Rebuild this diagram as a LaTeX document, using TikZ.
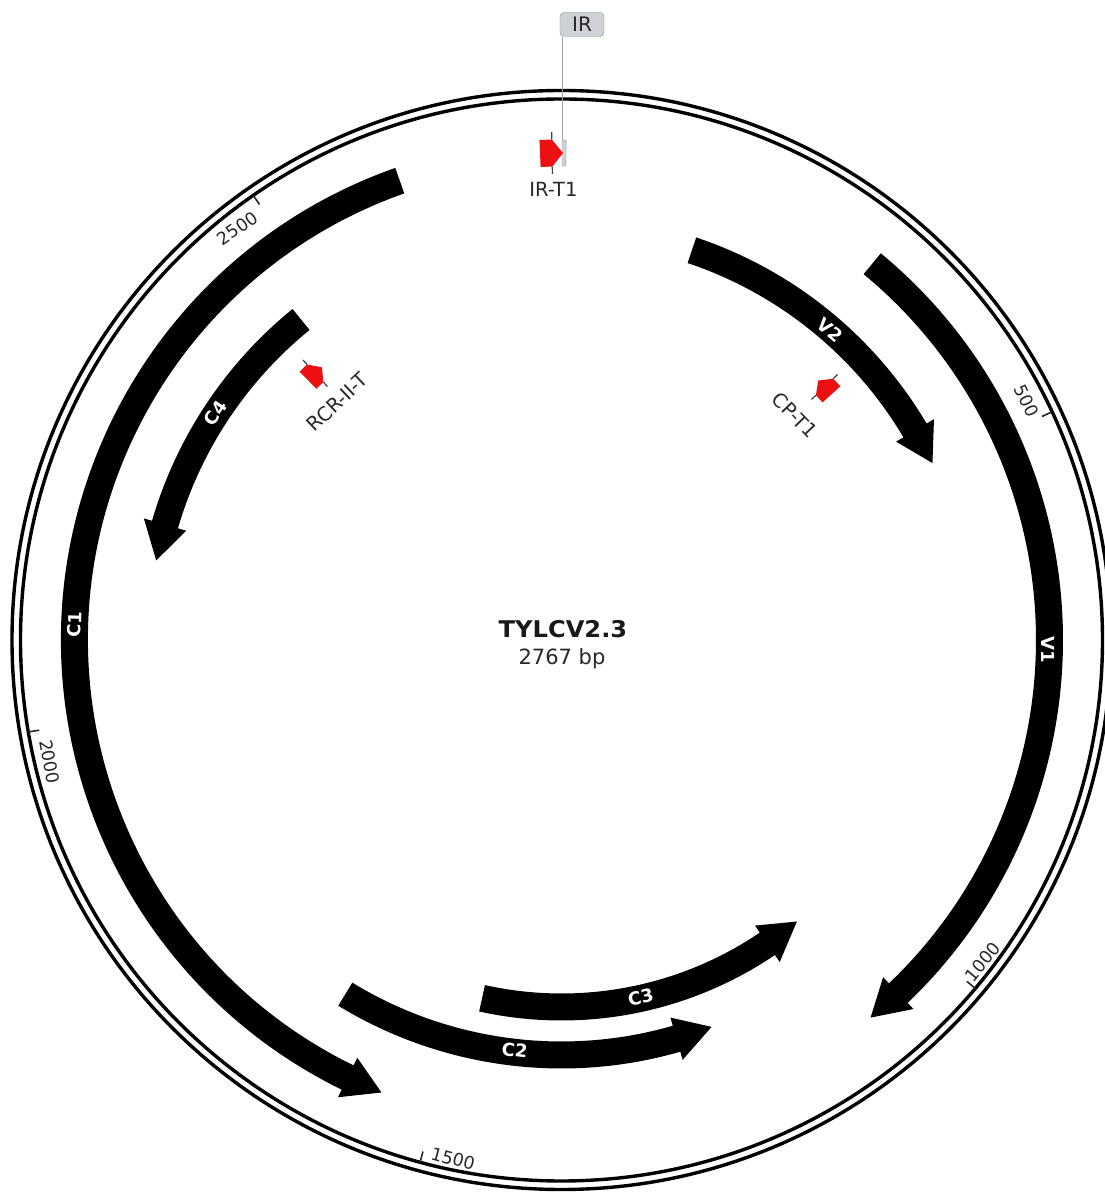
\documentclass[tikz,border=0pt]{standalone}
\usepackage{fontspec}
\setmainfont{DejaVu Sans}
\definecolor{featred}{RGB}{236,16,18}
\definecolor{txtgray}{RGB}{40,40,40}
\definecolor{irfill}{RGB}{206,209,214}
\definecolor{irdraw}{RGB}{140,143,148}
\definecolor{irline}{RGB}{160,160,160}
\tikzset{
  genebody/.style={fill=black},
  ring/.style={draw=black, line width=3.4pt},
  tickmark/.style={draw=txtgray, line width=1.6pt},
  ticklbl/.style={font=\fontsize{17.5}{20}\selectfont, text=txtgray, inner sep=0pt},
  genelbl/.style={font=\fontsize{18}{22}\selectfont\bfseries, text=white, inner sep=0pt},
  featlbl/.style={font=\fontsize{19.5}{22}\selectfont, text=txtgray, inner sep=0pt},
  barbline/.style={draw=black!75, line width=1.2pt},
  irbox/.style={draw=irdraw, fill=irfill, rounded corners=4pt, minimum width=44pt, minimum height=24pt, inner sep=0pt, font=\fontsize{20}{22}\selectfont, text=txtgray},
  irconn/.style={draw=irline, line width=1pt}
}
% #1 tail angle (clockwise from top), #2 tip angle, #3 radius (px)
\newcommand\genearrow[3]{%
 \pgfmathsetmacro\gaS{90-#1}%
 \pgfmathsetmacro\gaE{90-#2}%
 \pgfmathsetmacro\gaD{(#2>#1) ? 1 : -1}%
 \pgfmathsetmacro\gaH{\gaE+\gaD*37/#3*57.29578}%
 \pgfmathsetmacro\rO{#3+13.5}%
 \pgfmathsetmacro\rI{#3-13.5}%
 \pgfmathsetmacro\rB{#3+22}%
 \pgfmathsetmacro\rb{#3-22}%
 \fill[genebody] (\gaS:\rO pt) arc[start angle=\gaS, end angle=\gaH, radius=\rO pt] -- (\gaH:\rB pt) -- (\gaE:#3pt) -- (\gaH:\rb pt) -- (\gaH:\rI pt) arc[start angle=\gaH, end angle=\gaS, radius=\rI pt] -- cycle;
}
% #1 tail, #2 tip, #3 radius, #4 body half width, #5 barb half width, #6 head length px
\newcommand\tinyarrow[6]{%
 \pgfmathsetmacro\gaS{90-#1}%
 \pgfmathsetmacro\gaE{90-#2}%
 \pgfmathsetmacro\gaD{(#2>#1) ? 1 : -1}%
 \pgfmathsetmacro\gaH{\gaE+\gaD*#6/#3*57.29578}%
 \pgfmathsetmacro\rO{#3+#4}%
 \pgfmathsetmacro\rI{#3-#4}%
 \pgfmathsetmacro\rB{#3+#5}%
 \pgfmathsetmacro\rb{#3-#5}%
 \fill[featred] (\gaS:\rO pt) arc[start angle=\gaS, end angle=\gaH, radius=\rO pt] -- (\gaE:#3pt) -- (\gaH:\rI pt) arc[start angle=\gaH, end angle=\gaS, radius=\rI pt] -- cycle;
 \draw[barbline] (\gaH:\rO pt) -- (\gaH:\rB pt) (\gaH:\rI pt) -- (\gaH:\rb pt);
}
\begin{document}
\begin{tikzpicture}
\fill[white] (0,0) rectangle (1104pt,1192pt);
\useasboundingbox (0,0) rectangle (1104pt,1192pt);
\begin{scope}[shift={(561.5pt,552pt)}]
  % backbone
  \draw[ring] (0,0) circle[radius=549.5pt];
  \draw[ring] (0,0) circle[radius=541pt];
  % ticks
  \foreach \p in {500,1000,1500,2000,2500}
    \draw[tickmark] ({90-\p/2767*360}:530pt) -- ({90-\p/2767*360}:541pt);
  \node[ticklbl, rotate=-65.05] (t500) at ({90-62.8}:523pt) {500};
  \node[ticklbl, rotate=49.9] (t1000) at ({90-127.4}:530pt) {1000};
  \node[ticklbl, rotate=-15.15] (t1500) at ({90-191.8}:530pt) {1500};
  \node[ticklbl, rotate=-80.2] (t2000) at ({90-256.6}:526pt) {2000};
  \node[ticklbl, rotate=34.75] (t2500) at ({90-321.8}:524pt) {2500};
  % genes
  \genearrow{340.6}{201.7}{487}
  \genearrow{39.55}{140.7}{488}
  \genearrow{320.9}{281.1}{413}
  \genearrow{18.5}{64.5}{411}
  \genearrow{211.4}{158.8}{415}
  \genearrow{192.5}{140.1}{367}
  \node[genelbl, rotate=88.2] (lC1) at ({90-271.8}:487pt) {C1};
  \node[genelbl, rotate=-90] (lV1) at ({90-91.2}:487pt) {V1};
  \node[genelbl, rotate=-40.9] (lV2) at ({90-40.9}:410pt) {V2};
  \node[genelbl, rotate=56.7] (lC4) at ({90-303.3}:414pt) {C4};
  \node[genelbl, rotate=-6.5] (lC2) at ({90-186.5}:413pt) {C2};
  \node[genelbl, rotate=12.5] (lC3) at ({90-167.5}:366pt) {C3};
  % small features
  \fill[irfill, draw=irdraw, line width=0.4pt] ({90-0.06}:474pt) arc[start angle=89.94, end angle=89.47, radius=474pt] -- (89.47:500pt) arc[start angle=89.47, end angle=89.94, radius=500pt] -- cycle;
  \tinyarrow{357.47}{360.18}{487}{13.5}{21}{11}
  \tinyarrow{47.7}{44.7}{365}{12}{18}{9}
  \tinyarrow{315.7}{318.7}{363}{12}{18}{9}
  \node[featlbl] (lIRT1) at (-8pt,450.5pt) {IR-T1};
  \node[featlbl, rotate=-46] (lCPT1) at ({90-46.1}:324pt) {CP-T1};
  \node[featlbl, rotate=43.3] (lRCR) at ({90-316.7}:327pt) {RCR-II-T};
  % IR annotation
  \coordinate (irfeat) at (0.5pt,500pt);
  \node[irbox] (irlbl) at (20.5pt,615.5pt) {IR};
  \draw[irconn] (irfeat) -- (irfeat |- irlbl.south);
  % centre
  \node[font=\fontsize{23}{26}\selectfont\bfseries, text=black!90, anchor=base, inner sep=0pt] (title) at (1.5pt,2pt) {\scalebox{1.05}[1]{TYLCV2.3}};
  \node[font=\fontsize{21}{24}\selectfont, text=txtgray, anchor=base, inner sep=0pt] (size) at (0.5pt,-25pt) {2767 bp};
\end{scope}
\end{tikzpicture}
\end{document}
